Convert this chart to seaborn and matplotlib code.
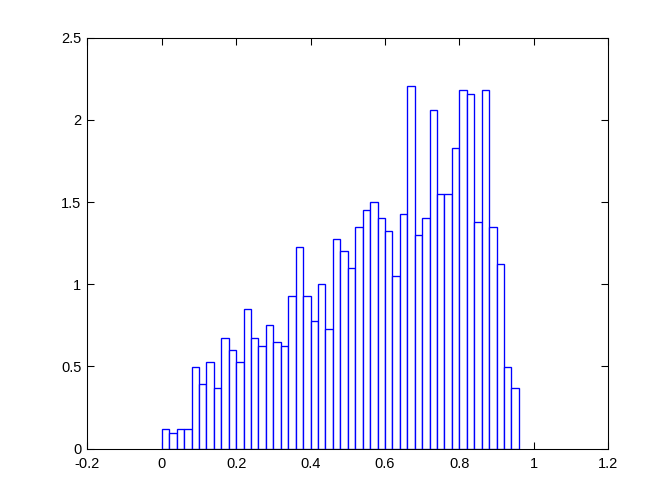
import numpy as np
import pandas as pd
import seaborn as sns
from matplotlib import pyplot as plt

# 直方图数据 (bin宽 0.02, 从0到0.96)
bin_start = 0.0
bin_width = 0.02
heights = [0.120, 0.096, 0.120, 0.120, 0.499, 0.395, 0.524, 0.371, 0.670, 0.597,
           0.524, 0.848, 0.670, 0.622, 0.750, 0.646, 0.622, 0.927, 1.227, 0.927,
           0.776, 1.000, 0.725, 1.276, 1.202, 1.098, 1.349, 1.453, 1.502, 1.404,
           1.325, 1.049, 1.428, 2.205, 1.300, 1.404, 2.058, 1.551, 1.551, 1.832,
           2.180, 2.156, 1.380, 2.180, 1.349, 1.125, 0.499, 0.371]
x_ticks = [-0.2, 0, 0.2, 0.4, 0.6, 0.8, 1, 1.2]
x_ticklabels = ['-0.2', '0', '0.2', '0.4', '0.6', '0.8', '1', '1.2']
y_ticks = [0, 0.5, 1, 1.5, 2, 2.5]
y_ticklabels = ['0', '0.5', '1', '1.5', '2', '2.5']


def main():
    sns.set_style('white')
    plt.rcParams['font.family'] = ['Liberation Sans', 'DejaVu Sans']

    n = len(heights)
    centers = bin_start + bin_width * (np.arange(n) + 0.5)
    df = pd.DataFrame({'x': centers, 'h': heights})

    fig = plt.figure(figsize=(7, 5.25), dpi=96)
    ax = fig.add_axes([0.13, 0.11, 0.775, 0.815])
    sns.histplot(data=df, x='x', weights='h', binwidth=bin_width,
                 binrange=(bin_start, bin_start + bin_width * n), stat='count',
                 color='white', edgecolor='blue', linewidth=1.0, alpha=1, ax=ax)

    ax.set_xlim(-0.2, 1.2)
    ax.set_ylim(0, 2.5)
    ax.set_xticks(x_ticks)
    ax.set_xticklabels(x_ticklabels)
    ax.set_yticks(y_ticks)
    ax.set_yticklabels(y_ticklabels)
    ax.set_xlabel('')
    ax.set_ylabel('')
    for s in ax.spines.values():
        s.set_visible(True)
        s.set_color('black')
        s.set_linewidth(0.8)
    ax.tick_params(direction='in', length=5, width=0.8, top=True, right=True,
                   bottom=True, left=True, labelsize=11, colors='black')
    ax.tick_params(axis='x', pad=6.5)
    ax.tick_params(axis='y', pad=4.5)
    fig.savefig('out.png', dpi=96, facecolor='white')


if __name__ == '__main__':
    main()
